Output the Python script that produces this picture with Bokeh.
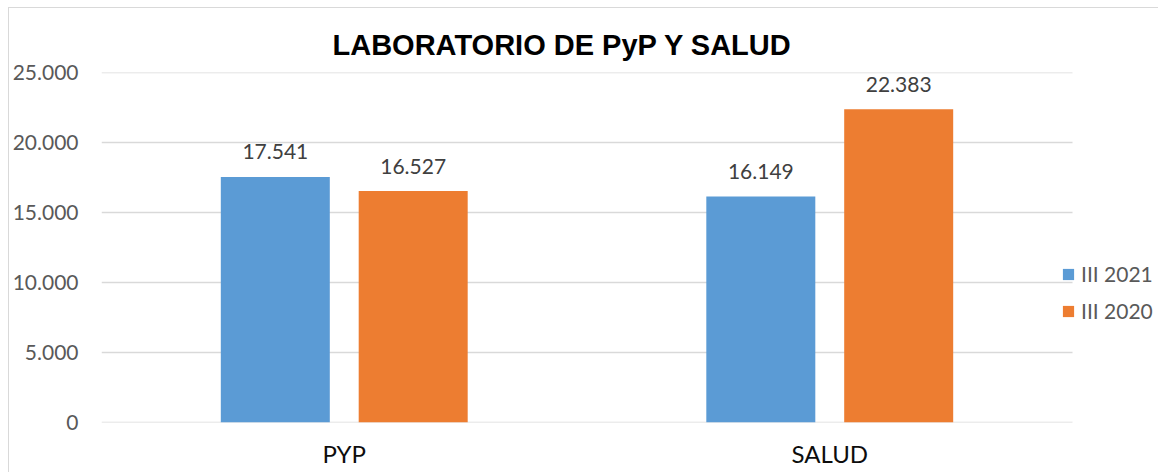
from bokeh.plotting import figure
from bokeh.models import Range1d, FixedTicker, Legend, LegendItem, ColumnDataSource
from bokeh.core.properties import value
from bokeh.embed import file_html
from bokeh.resources import INLINE

categories = ["PYP", "SALUD"]
series_names = ["III 2021", "III 2020"]
values_2021 = [17541, 16149]
values_2020 = [16527, 22383]
y_ticks = [0, 5000, 10000, 15000, 20000, 25000]
y_tick_labels = ["0", "5.000", "10.000", "15.000", "20.000", "25.000"]
title_text = "LABORATORIO DE PyP Y SALUD"

def fmt(v):
    return f"{v:,}".replace(",", ".")

n = len(categories)
centers = [i + 0.5 for i in range(n)]
off = 0.142
bw = 0.2245
X_END = n * 1058 / 971  # extra room on the right for the legend

source = ColumnDataSource(dict(
    x21=[c - off for c in centers], x20=[c + off for c in centers],
    v21=values_2021, v20=values_2020,
    l21=[fmt(v) for v in values_2021],
    l20=[fmt(v) for v in values_2020],
))
grid_src = ColumnDataSource(dict(
    x0=[0] * len(y_ticks), x1=[n] * len(y_ticks), y=y_ticks,
))

BLUE = "#5B9BD5"
ORANGE = "#ED7D31"
FONT = "Lato"

p = figure(
    width=1150, height=465,
    x_range=Range1d(0, X_END),
    y_range=Range1d(0, 25000),
    output_backend="svg", toolbar_location=None,
    min_border_left=92, min_border_right=0, min_border_top=64, min_border_bottom=51,
)
p.styles = {"margin-left": "8px", "margin-top": "7px",
            "border-left": "1px solid #d9d9d9", "border-top": "1px solid #d9d9d9"}

p.title.text = title_text
p.title.text_font = "Liberation Sans"
p.title.text_font_style = "bold"
p.title.text_font_size = "29px"
p.title.text_color = "#000000"
p.title.align = "left"
p.title.offset = 231
p.title.standoff = 24

# horizontal gridlines spanning the category area only
p.segment(x0="x0", x1="x1", y0="y", y1="y", source=grid_src,
          line_color="#d9d9d9", line_width=1.5)

r1 = p.vbar(x="x21", top="v21", width=bw, source=source,
            fill_color=BLUE, line_color=None)
r2 = p.vbar(x="x20", top="v20", width=bw, source=source,
            fill_color=ORANGE, line_color=None)

for xcol, col, lab in (("x21", "v21", "l21"), ("x20", "v20", "l20")):
    p.text(x=xcol, y=col, text=lab, source=source,
           text_align="center", text_baseline="alphabetic", y_offset=-25,
           text_font=value(FONT), text_font_size="21px", text_color="#404040")

p.outline_line_color = None
p.xgrid.grid_line_color = None
p.ygrid.grid_line_color = None

p.yaxis.ticker = FixedTicker(ticks=y_ticks)
p.yaxis.major_label_overrides = {t: l for t, l in zip(y_ticks, y_tick_labels)}
p.xaxis.ticker = FixedTicker(ticks=centers)
p.xaxis.major_label_overrides = {c: l for c, l in zip(centers, categories)}
for ax in (p.xaxis, p.yaxis):
    ax.axis_line_color = None
    ax.major_tick_line_color = None
    ax.minor_tick_line_color = None
    ax.major_tick_out = 0
    ax.major_tick_in = 0
    ax.minor_tick_out = 0
    ax.minor_tick_in = 0
    ax.major_label_text_font = FONT
p.yaxis.major_label_text_font_size = "21px"
p.yaxis.major_label_text_color = "#595959"
p.yaxis.major_label_standoff = 23
p.xaxis.major_label_text_font_size = "24px"
p.xaxis.major_label_text_color = "#0d0d0d"
p.xaxis.major_label_standoff = 16

legend = Legend(
    items=[LegendItem(label=series_names[0], renderers=[r1]),
           LegendItem(label=series_names[1], renderers=[r2])],
    location=(960, 99),
    glyph_width=14, glyph_height=14, label_height=24, spacing=12,
    label_standoff=6, padding=0, margin=0,
    label_text_font=FONT, label_text_font_size="21px", label_text_color="#595959",
    border_line_color=None, background_fill_alpha=0,
)
p.add_layout(legend, "center")

open("out.html", "w").write(file_html(p, INLINE))
